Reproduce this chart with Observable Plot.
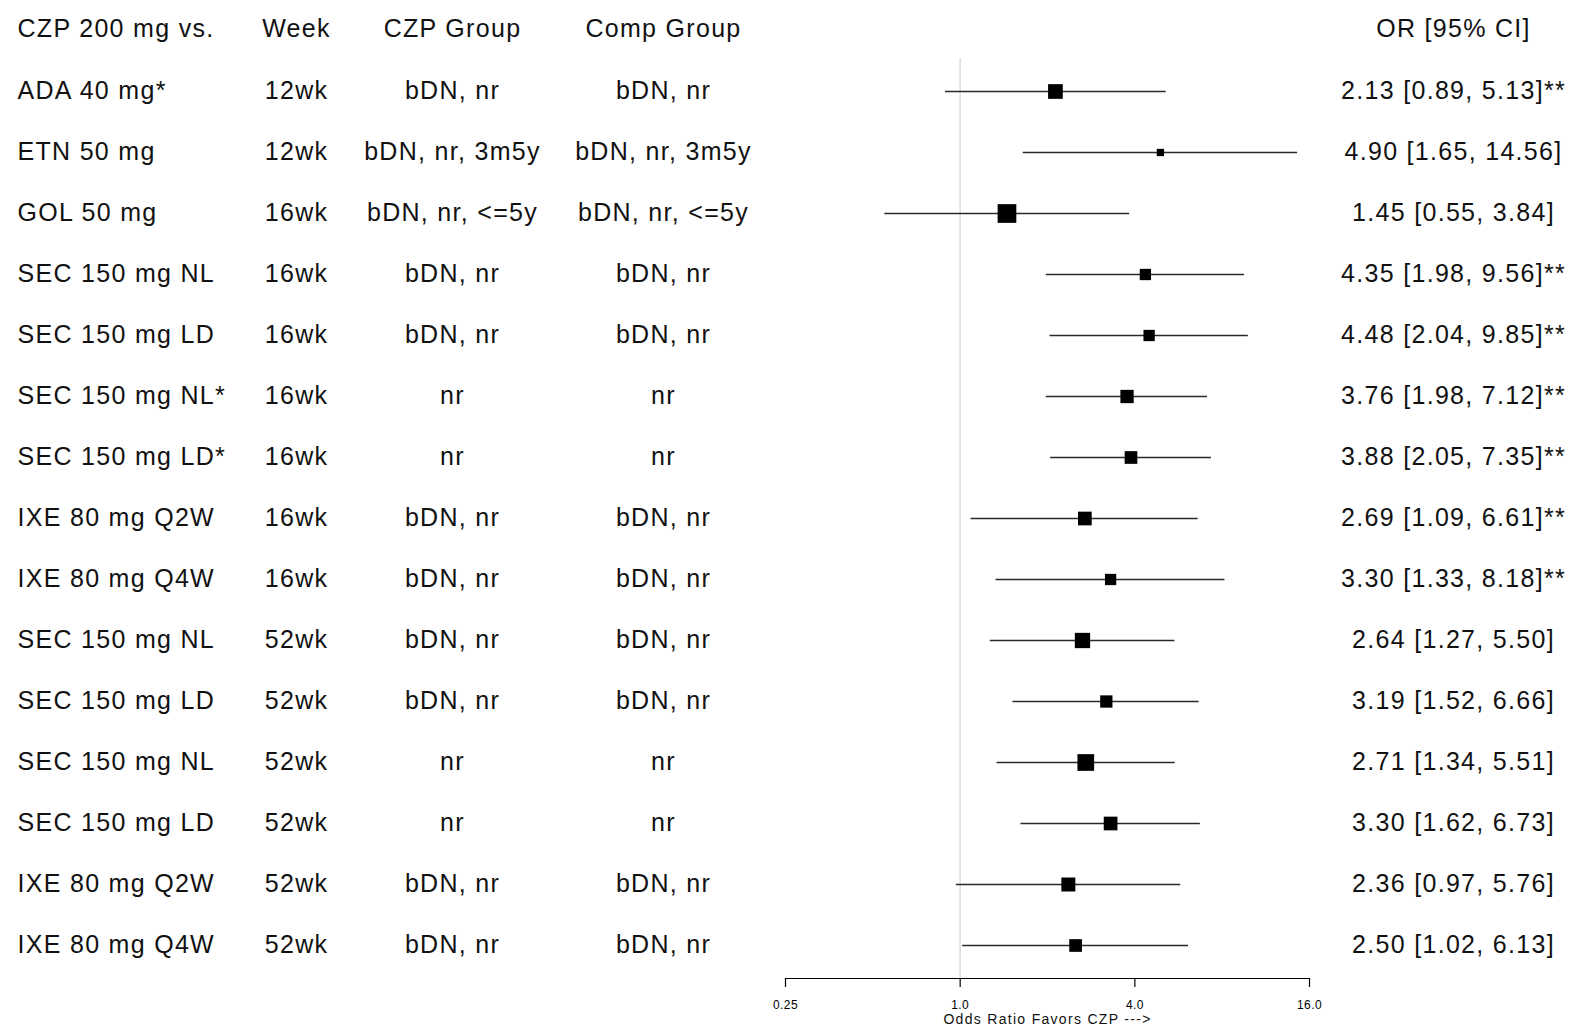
<!DOCTYPE html>
<html>
<head>
<meta charset="utf-8">
<script src="https://cdn.jsdelivr.net/npm/d3@7"></script>
<script src="https://cdn.jsdelivr.net/npm/@observablehq/plot@0.6"></script>
<style>
  html, body { margin: 0; padding: 0; background: #fff; }
  svg text { letter-spacing: 1.3px; }
  g[aria-label="x-axis tick label"] text { letter-spacing: 0.4px; }
  g[aria-label="axis title"] text { letter-spacing: 1.2px; }
</style>
</head>
<body>
<script>
// ---- data ----
const comparators = ["ADA 40 mg*", "ETN 50 mg", "GOL 50 mg", "SEC 150 mg NL", "SEC 150 mg LD",
  "SEC 150 mg NL*", "SEC 150 mg LD*", "IXE 80 mg Q2W", "IXE 80 mg Q4W", "SEC 150 mg NL",
  "SEC 150 mg LD", "SEC 150 mg NL", "SEC 150 mg LD", "IXE 80 mg Q2W", "IXE 80 mg Q4W"];
const weeks = ["12wk", "12wk", "16wk", "16wk", "16wk", "16wk", "16wk", "16wk", "16wk",
  "52wk", "52wk", "52wk", "52wk", "52wk", "52wk"];
const czpGroups = ["bDN, nr", "bDN, nr, 3m5y", "bDN, nr, <=5y", "bDN, nr", "bDN, nr", "nr", "nr",
  "bDN, nr", "bDN, nr", "bDN, nr", "bDN, nr", "nr", "nr", "bDN, nr", "bDN, nr"];
const compGroups = ["bDN, nr", "bDN, nr, 3m5y", "bDN, nr, <=5y", "bDN, nr", "bDN, nr", "nr", "nr",
  "bDN, nr", "bDN, nr", "bDN, nr", "bDN, nr", "nr", "nr", "bDN, nr", "bDN, nr"];
const oddsRatios = [2.13, 4.90, 1.45, 4.35, 4.48, 3.76, 3.88, 2.69, 3.30, 2.64, 3.19, 2.71, 3.30, 2.36, 2.50];
const ciLower = [0.89, 1.65, 0.55, 1.98, 2.04, 1.98, 2.05, 1.09, 1.33, 1.27, 1.52, 1.34, 1.62, 0.97, 1.02];
const ciUpper = [5.13, 14.56, 3.84, 9.56, 9.85, 7.12, 7.35, 6.61, 8.18, 5.50, 6.66, 5.51, 6.73, 5.76, 6.13];
const flags = ["**", "", "", "**", "**", "**", "**", "**", "**", "", "", "", "", "", ""];
// relative box weights
const weights = [14.7, 7.3, 18.7, 11.3, 11.3, 13.3, 12.7, 13.7, 11.3, 15.3, 12.3, 16.7, 13.7, 14, 12.7];
const headers = ["CZP 200 mg vs.", "Week", "CZP Group", "Comp Group", "OR [95% CI]"];
const xTicks = [0.25, 1, 4, 16];
const axisTitle = "Odds Ratio Favors CZP --->";

const rows = comparators.map((c, i) => ({
  i, comparator: c, week: weeks[i], czp: czpGroups[i], comp: compGroups[i],
  or: oddsRatios[i], lo: ciLower[i], hi: ciUpper[i], w: weights[i],
  label: `${oddsRatios[i].toFixed(2)} [${ciLower[i].toFixed(2)}, ${ciUpper[i].toFixed(2)}]${flags[i]}`
}));

const font = "'Liberation Sans', Arial, sans-serif";
const FS = 25;
const colText = (field, dx, anchor, fa = "left") => Plot.text(rows, {
  y: "i", text: field, frameAnchor: fa, dx, dy: -1, textAnchor: anchor, lineAnchor: "middle", fontSize: FS, fill: "#111"
});
const headText = (txt, dx, anchor, fa = "top-left") => Plot.text([txt], {
  text: d => d, frameAnchor: fa, dx, dy: -30, textAnchor: anchor, lineAnchor: "middle", fontSize: FS, fill: "#111"
});

const chart = Plot.plot({
  width: 1570,
  height: 1029,
  marginLeft: 785,
  marginRight: 261,
  marginTop: 58,
  marginBottom: 51,
  style: { fontFamily: font, fontSize: "25px", background: "#fff", color: "#000" },
  x: { type: "log", base: 2, domain: [0.25, 16] },
  y: { type: "point", domain: d3.range(rows.length), padding: 0, insetTop: 30, insetBottom: 30.5, axis: null },
  r: { type: "linear", domain: [0, 20], range: [0, 20 / Math.sqrt(Math.PI)] },
  marks: [
    Plot.ruleX([1], { stroke: "#dcdcdc", strokeWidth: 1.5 }),
    Plot.frame({ anchor: "bottom", stroke: "#000", strokeWidth: 1.2 }),
    Plot.axisX({
      ticks: xTicks, tickSize: 9, tickPadding: 13, fontSize: 12, label: null,
      tickFormat: d => d < 1 ? d.toFixed(2) : d.toFixed(1), stroke: "#000", strokeWidth: 1.2
    }),
    Plot.text([axisTitle], { text: d => d, frameAnchor: "bottom", dy: 41, lineAnchor: "middle", fontSize: 14, fill: "#111", ariaLabel: "axis title" }),
    Plot.ruleY(rows, { y: "i", x1: "lo", x2: "hi", stroke: "#2a2a2a", strokeWidth: 1.3 }),
    Plot.dot(rows, { x: "or", y: "i", r: "w", symbol: "square", fill: "#000", stroke: "none" }),
    colText("comparator", -768, "start"),
    colText("week", -489, "middle"),
    colText("czp", -333, "middle"),
    colText("comp", -122, "middle"),
    colText("label", 144, "middle", "right"),
    headText(headers[0], -768, "start"),
    headText(headers[1], -489, "middle"),
    headText(headers[2], -333, "middle"),
    headText(headers[3], -122, "middle"),
    headText(headers[4], 144, "middle", "top-right")
  ]
});
document.body.appendChild(chart);
</script>
</body>
</html>
